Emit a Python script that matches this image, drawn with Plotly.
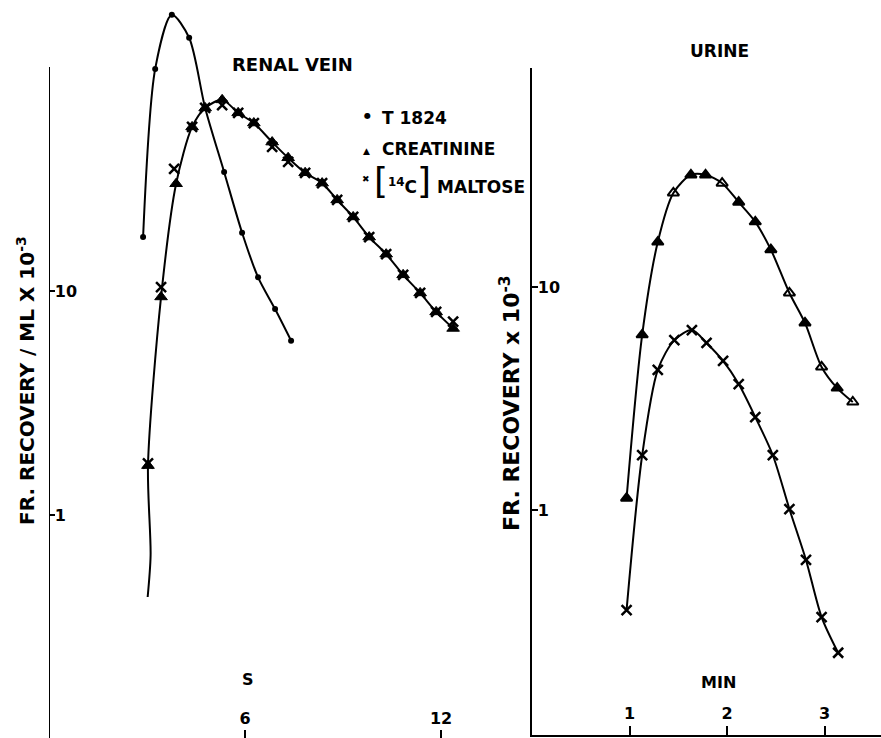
import plotly.graph_objects as go

# ---------------- data ----------------
# Renal vein panel (time in seconds, fractional recovery / ml x 10^-3)
rv_t1824_s = [2.88, 3.25, 3.76, 4.29, 4.78, 5.36, 5.91, 6.40, 6.92, 7.41]
rv_t1824 = [17.4, 98, 171, 135, 65.6, 34.0, 18.2, 11.5, 8.3, 6.0]

rv_creat_s = [3.03, 3.43, 3.89, 4.38, 4.78, 5.30, 5.79, 6.27, 6.83, 7.32,
              7.84, 8.36, 8.82, 9.31, 9.80, 10.32, 10.84, 11.36, 11.85, 12.37]
rv_creat = [1.66, 9.4, 30.1, 54, 65.6, 71.3, 62.4, 56.2, 46.2, 39.3,
            33.7, 30.3, 25.5, 21.4, 17.4, 14.6, 11.8, 9.8, 8.06, 6.8]

rv_malt_s = [3.03, 3.43, 3.83, 4.38, 4.78, 5.30, 5.79, 6.27, 6.83, 7.32,
             7.84, 8.36, 8.82, 9.31, 9.80, 10.32, 10.84, 11.36, 11.85, 12.37]
rv_malt = [1.70, 10.4, 35.1, 54, 65.6, 67.6, 62.4, 56.2, 44.0, 37.7,
           33.7, 30.3, 25.5, 21.4, 17.4, 14.6, 11.8, 9.8, 8.06, 7.3]

# hand-drawn tail of the renal-vein curve below its first point (bottom upward)
rv_tail_s = [3.02, 3.11]
rv_tail = [0.43, 0.66]

# Urine panel (time in minutes, fractional recovery x 10^-3)
ur_creat_min = [0.97, 1.13, 1.29, 1.45, 1.63, 1.78, 1.95, 2.12, 2.29, 2.45,
                2.64, 2.80, 2.97, 3.13, 3.29]
ur_creat = [1.13, 6.1, 15.9, 26.4, 31.8, 31.8, 29.2, 24.0, 19.6, 14.7,
            9.4, 6.9, 4.38, 3.52, 3.05]
ur_creat_open = [False, False, False, True, False, False, True, False, False, False,
                 True, False, True, False, True]

ur_malt_min = [0.97, 1.13, 1.29, 1.46, 1.64, 1.79, 1.96, 2.12, 2.29, 2.47,
               2.64, 2.81, 2.97, 3.14]
ur_malt = [0.356, 1.76, 4.25, 5.78, 6.41, 5.61, 4.66, 3.67, 2.61, 1.76,
           1.01, 0.597, 0.331, 0.229]

left_ticks = [6, 12]
right_ticks = [1, 2, 3]
y_ticks = [1, 10]
y_tick_text = ["1", "10"]
axis_top = 100

# ---------------- layout geometry ----------------
W, H = 881, 738
FONT = "DejaVu Sans"


def px(x):
    return x / W


def py(y):
    return 1 - y / H


left_y_range = [-0.996, 2.299]
left_x_range = [0, (500 - 49) / 32.67]
right_y_range = [-1.009, 1.982]
right_x_range = [0, (881 - 532) / 97.5]

fig = go.Figure()

line_style = dict(color="black", width=2, shape="spline", smoothing=0.8)

# ----- renal vein panel -----
fig.add_trace(go.Scatter(x=[0, 0], y=[10 ** left_y_range[0], axis_top], mode="lines",
                         line=dict(color="black", width=2), xaxis="x", yaxis="y",
                         showlegend=False, hoverinfo="skip", cliponaxis=False))
fig.add_trace(go.Scatter(x=rv_t1824_s, y=rv_t1824, mode="lines+markers",
                         line=line_style,
                         marker=dict(symbol="circle", size=6, color="black"),
                         xaxis="x", yaxis="y", name="T 1824", showlegend=False))
fig.add_trace(go.Scatter(x=rv_tail_s + rv_creat_s, y=rv_tail + rv_creat, mode="lines",
                         line=line_style, xaxis="x", yaxis="y", showlegend=False,
                         hoverinfo="skip"))
fig.add_trace(go.Scatter(x=rv_creat_s, y=rv_creat, mode="markers",
                         marker=dict(symbol="triangle-up", size=11, color="black",
                                     line=dict(color="black", width=1)),
                         xaxis="x", yaxis="y", name="CREATININE", showlegend=False))
fig.add_trace(go.Scatter(x=rv_malt_s, y=rv_malt, mode="markers",
                         marker=dict(symbol="x-thin-open", size=10, color="black",
                                     line=dict(color="black", width=2.5)),
                         xaxis="x", yaxis="y", name="MALTOSE", showlegend=False))

# ----- urine panel -----
fig.add_trace(go.Scatter(x=ur_creat_min, y=ur_creat, mode="lines+markers",
                         line=line_style,
                         marker=dict(symbol=["triangle-up-open" if o else "triangle-up"
                                             for o in ur_creat_open],
                                     size=10, color="black",
                                     line=dict(color="black", width=2)),
                         xaxis="x2", yaxis="y2", showlegend=False))
fig.add_trace(go.Scatter(x=ur_malt_min, y=ur_malt, mode="lines+markers",
                         line=line_style,
                         marker=dict(symbol="x-thin-open", size=10, color="black",
                                     line=dict(color="black", width=2.5)),
                         xaxis="x2", yaxis="y2", showlegend=False))

tickfont = dict(family=FONT, size=16, color="black", weight="bold")

fig.update_layout(
    width=W, height=H,
    margin=dict(l=0, r=0, t=0, b=0),
    paper_bgcolor="white", plot_bgcolor="white",
    showlegend=False,
    xaxis=dict(domain=[px(49), px(500)], range=left_x_range, anchor="y",
               tickvals=left_ticks, ticks="inside", ticklen=8, tickwidth=2,
               tickcolor="black", ticklabelposition="inside", tickfont=tickfont,
               ticklabelstandoff=3,
               showline=False, showgrid=False, zeroline=False),
    yaxis=dict(domain=[0, 1], type="log", range=left_y_range, anchor="x",
               tickvals=y_ticks, ticktext=y_tick_text, ticks="inside", ticklen=6,
               tickwidth=2, tickcolor="black", ticklabelposition="inside",
               tickfont=tickfont, showline=False, showgrid=False, zeroline=False),
    xaxis2=dict(domain=[px(532), 1], range=right_x_range, anchor="y2",
                tickvals=right_ticks, ticks="inside", ticklen=9, tickwidth=2,
                tickcolor="black", ticklabelposition="inside", tickfont=tickfont,
                ticklabelstandoff=4,
                showline=True, linewidth=2, linecolor="black",
                showgrid=False, zeroline=False),
    yaxis2=dict(domain=[py(735), py(68)], type="log", range=right_y_range, anchor="x2",
                tickvals=y_ticks, ticktext=y_tick_text, ticks="inside", ticklen=6,
                tickwidth=2, tickcolor="black", ticklabelposition="inside",
                tickfont=tickfont, showline=True, linewidth=2, linecolor="black",
                showgrid=False, zeroline=False),
)


def note(text, x, y, size=15, xanchor="center", angle=0):
    fig.add_annotation(text=text, x=px(x), y=py(y), xref="paper", yref="paper",
                       xanchor=xanchor, yanchor="middle", showarrow=False,
                       textangle=angle,
                       font=dict(family=FONT, size=size, color="black", weight="bold"))


note("RENAL VEIN", 292, 65, 18)
note("URINE", 719, 51, 17)
note("●", 367, 116, 8)
note("T 1824", 380, 118, 17, "left")
note("▲", 366, 151, 9)
note("CREATININE", 380, 149, 17, "left")
note("✖", 366, 179, 9)
note('<span style="font-size:36px;font-weight:normal">[</span>'
     '<sup>14</sup>C'
     '<span style="font-size:36px;font-weight:normal">]</span> MALTOSE',
     372, 181, 17, "left")
note("S", 248, 679, 16)
note("MIN", 718, 682, 16)
note("FR. RECOVERY / ML X 10<sup>-3</sup>", 26, 381, 20, angle=-90)
note("FR. RECOVERY x 10<sup>-3</sup>", 510, 403, 22, angle=-90)

fig.write_html("out.html", config={"displayModeBar": False},
               post_script="document.body.style.margin='0';document.body.style.overflow='hidden';")
